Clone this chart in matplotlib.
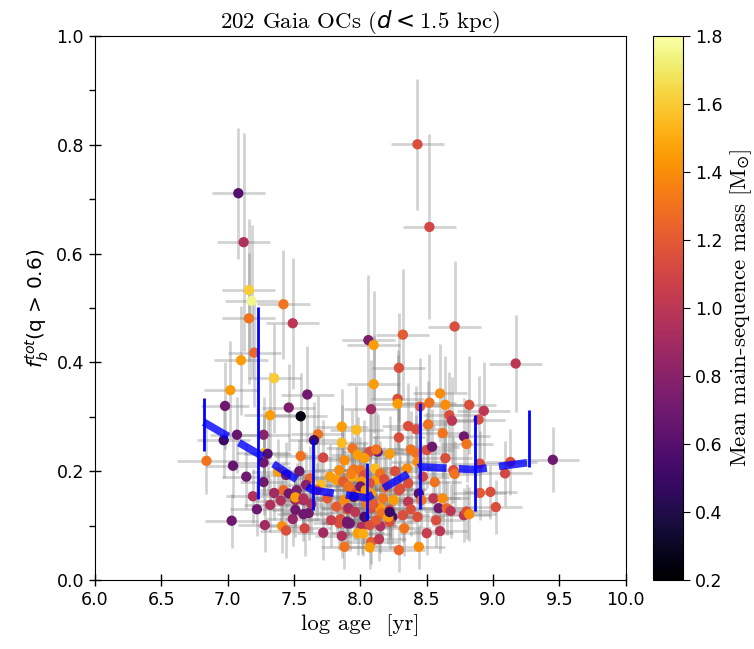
import matplotlib
matplotlib.use("Agg")
import matplotlib.pyplot as plt
import numpy as np
from matplotlib.ticker import MultipleLocator

# Open clusters: log age, total binary fraction (q > 0.6), mean MS mass, uncertainties
log_age = [
    8.43, 8.52, 7.08, 7.12, 7.16, 7.18, 7.16, 7.42, 7.49, 7.20,
    7.10, 7.35, 7.02, 7.60, 8.06, 8.10, 8.32, 8.29, 8.10, 8.28,
    8.71, 9.17, 9.45, 6.98, 7.46, 7.55, 7.32, 7.07, 6.97, 7.27,
    7.68, 7.65, 7.86, 7.86, 7.27, 7.30, 7.55, 6.84, 7.04, 7.27,
    7.14, 7.38, 7.44, 7.54, 7.27, 7.62, 7.70, 7.84, 7.82, 7.87,
    7.19, 7.42, 7.46, 7.52, 7.51, 7.57, 7.40, 7.32, 7.51, 7.57,
    7.61, 7.67, 7.49, 7.03, 7.28, 7.41, 7.44, 7.72, 7.84, 7.86,
    7.88, 7.82, 7.85, 7.90, 7.90, 7.51, 7.57, 8.28, 8.08, 8.52,
    8.60, 8.64, 8.45, 8.36, 8.51, 8.62, 8.42, 8.29, 7.97, 7.94,
    8.13, 8.07, 8.22, 8.38, 8.42, 8.50, 8.54, 8.64, 8.03, 8.43,
    8.11, 7.95, 8.35, 8.36, 8.30, 8.02, 8.12, 8.15, 8.07, 8.00,
    7.95, 7.98, 8.17, 8.25, 8.29, 8.36, 8.44, 8.46, 8.55, 8.62,
    8.59, 8.65, 7.88, 7.91, 7.90, 8.08, 8.15, 8.22, 8.24, 8.32,
    8.43, 8.57, 8.01, 8.07, 8.15, 8.22, 7.98, 8.02, 8.08, 8.50,
    8.07, 8.29, 8.44, 8.82, 8.93, 8.67, 8.69, 8.89, 8.78, 8.80,
    8.70, 8.71, 8.90, 9.13, 9.09, 8.98, 9.02, 8.68, 8.78, 8.80,
    8.82, 8.00, 8.03, 8.01, 7.91, 8.00, 8.08, 7.95, 7.92, 8.03,
    8.16, 8.21, 8.22, 7.94, 7.98, 7.88, 8.12, 8.26, 8.19, 8.05,
    7.96, 8.12, 8.14, 7.78, 7.75, 7.77, 7.72, 8.33, 8.38, 7.63,
    7.59, 7.35, 7.22, 7.58, 8.47, 8.56, 8.04, 8.10, 7.93, 8.18,
    8.90, 8.60,
]
fb_tot = [
    0.801, 0.649, 0.711, 0.621, 0.533, 0.513, 0.481, 0.507, 0.472, 0.418,
    0.404, 0.371, 0.349, 0.341, 0.441, 0.432, 0.451, 0.390, 0.360, 0.333,
    0.466, 0.398, 0.221, 0.320, 0.317, 0.301, 0.303, 0.267, 0.257, 0.267,
    0.268, 0.257, 0.282, 0.252, 0.233, 0.232, 0.228, 0.219, 0.210, 0.216,
    0.190, 0.199, 0.193, 0.200, 0.180, 0.187, 0.175, 0.202, 0.184, 0.181,
    0.154, 0.165, 0.159, 0.165, 0.147, 0.147, 0.146, 0.138, 0.129, 0.121,
    0.123, 0.165, 0.112, 0.109, 0.101, 0.099, 0.091, 0.087, 0.105, 0.081,
    0.061, 0.135, 0.112, 0.104, 0.130, 0.152, 0.150, 0.324, 0.314, 0.326,
    0.343, 0.322, 0.319, 0.283, 0.286, 0.270, 0.277, 0.262, 0.276, 0.242,
    0.236, 0.236, 0.232, 0.240, 0.233, 0.239, 0.245, 0.224, 0.224, 0.217,
    0.205, 0.203, 0.205, 0.178, 0.168, 0.185, 0.184, 0.196, 0.178, 0.168,
    0.165, 0.154, 0.150, 0.147, 0.165, 0.144, 0.159, 0.147, 0.150, 0.150,
    0.132, 0.132, 0.147, 0.132, 0.107, 0.132, 0.132, 0.129, 0.116, 0.119,
    0.116, 0.110, 0.098, 0.101, 0.099, 0.107, 0.086, 0.085, 0.070, 0.086,
    0.060, 0.055, 0.061, 0.322, 0.311, 0.303, 0.293, 0.295, 0.264, 0.250,
    0.202, 0.195, 0.214, 0.217, 0.196, 0.162, 0.134, 0.127, 0.119, 0.126,
    0.121, 0.202, 0.193, 0.181, 0.172, 0.172, 0.159, 0.153, 0.104, 0.116,
    0.123, 0.116, 0.125, 0.190, 0.230, 0.220, 0.240, 0.200, 0.170, 0.140,
    0.125, 0.110, 0.075, 0.110, 0.150, 0.190, 0.225, 0.095, 0.130, 0.140,
    0.175, 0.160, 0.130, 0.095, 0.190, 0.180, 0.165, 0.140, 0.195, 0.185,
    0.160, 0.090,
]
ms_mass = [
    1.15, 1.10, 0.60, 0.95, 1.60, 1.75, 1.30, 1.30, 1.00, 1.25,
    1.45, 1.60, 1.45, 0.70, 0.75, 1.45, 1.20, 1.15, 1.45, 1.15,
    1.15, 1.00, 0.70, 0.70, 0.75, 0.25, 1.45, 0.65, 0.50, 0.80,
    1.30, 0.50, 1.45, 1.55, 1.55, 0.60, 1.30, 1.30, 0.65, 0.70,
    0.70, 1.45, 0.70, 0.70, 0.70, 1.25, 1.55, 1.40, 1.45, 1.20,
    0.95, 1.25, 0.70, 0.75, 0.90, 0.90, 0.95, 0.95, 0.70, 0.70,
    0.70, 1.15, 0.85, 0.70, 0.90, 1.40, 1.15, 0.90, 1.15, 0.95,
    1.30, 1.20, 1.15, 0.75, 1.20, 1.45, 0.95, 1.45, 0.90, 1.30,
    1.40, 1.40, 1.20, 1.15, 1.30, 1.30, 1.15, 1.15, 1.55, 1.30,
    0.70, 1.15, 1.45, 1.30, 1.30, 1.15, 0.70, 1.15, 1.45, 1.40,
    1.55, 1.30, 1.40, 1.15, 1.15, 1.15, 1.45, 1.30, 1.15, 0.60,
    1.15, 1.45, 1.30, 1.45, 1.15, 1.00, 0.60, 1.30, 1.00, 1.40,
    0.70, 1.25, 1.40, 0.90, 0.70, 1.15, 1.45, 1.15, 0.55, 1.15,
    1.15, 1.15, 0.95, 1.15, 0.95, 1.15, 1.45, 1.50, 1.20, 1.05,
    1.45, 1.25, 1.40, 1.15, 1.00, 1.15, 1.00, 1.15, 0.70, 1.30,
    1.15, 1.30, 1.15, 1.15, 1.10, 1.15, 1.15, 1.00, 1.00, 1.15,
    1.40, 1.30, 1.15, 1.45, 1.30, 0.70, 1.45, 0.55, 0.70, 0.55,
    1.30, 1.45, 0.50, 1.50, 1.45, 1.40, 1.30, 1.15, 1.30, 1.30,
    1.00, 1.20, 1.00, 1.05, 1.20, 1.45, 1.10, 1.30, 1.15, 0.95,
    0.80, 0.90, 0.70, 1.10, 1.10, 1.30, 1.45, 1.20, 1.35, 1.15,
    1.20, 1.00,
]
age_err = [
    0.20, 0.20, 0.20, 0.20, 0.20, 0.20, 0.20, 0.20, 0.20, 0.20,
    0.20, 0.20, 0.20, 0.20, 0.20, 0.20, 0.20, 0.20, 0.20, 0.20,
    0.20, 0.20, 0.20, 0.18, 0.20, 0.20, 0.20, 0.20, 0.20, 0.20,
    0.20, 0.18, 0.20, 0.20, 0.20, 0.18, 0.20, 0.22, 0.20, 0.20,
    0.18, 0.20, 0.20, 0.20, 0.18, 0.20, 0.20, 0.20, 0.20, 0.20,
    0.20, 0.18, 0.20, 0.20, 0.20, 0.18, 0.20, 0.20, 0.18, 0.20,
    0.20, 0.20, 0.20, 0.20, 0.20, 0.18, 0.20, 0.20, 0.20, 0.20,
    0.18, 0.20, 0.20, 0.20, 0.20, 0.20, 0.18, 0.20, 0.20, 0.20,
    0.20, 0.20, 0.18, 0.20, 0.20, 0.20, 0.20, 0.20, 0.20, 0.20,
    0.20, 0.20, 0.20, 0.18, 0.20, 0.20, 0.20, 0.20, 0.20, 0.20,
    0.20, 0.20, 0.20, 0.20, 0.20, 0.20, 0.20, 0.20, 0.20, 0.20,
    0.20, 0.20, 0.20, 0.20, 0.20, 0.20, 0.20, 0.20, 0.20, 0.20,
    0.20, 0.20, 0.20, 0.20, 0.20, 0.20, 0.20, 0.20, 0.20, 0.20,
    0.20, 0.20, 0.20, 0.20, 0.20, 0.20, 0.20, 0.20, 0.20, 0.20,
    0.20, 0.20, 0.20, 0.20, 0.20, 0.20, 0.20, 0.20, 0.20, 0.20,
    0.20, 0.20, 0.20, 0.20, 0.20, 0.20, 0.20, 0.20, 0.20, 0.20,
    0.20, 0.20, 0.20, 0.20, 0.20, 0.20, 0.20, 0.20, 0.20, 0.20,
    0.20, 0.20, 0.20, 0.20, 0.20, 0.20, 0.20, 0.20, 0.20, 0.20,
    0.20, 0.20, 0.20, 0.20, 0.20, 0.20, 0.20, 0.20, 0.20, 0.20,
    0.20, 0.20, 0.20, 0.20, 0.20, 0.20, 0.20, 0.20, 0.20, 0.20,
    0.20, 0.20,
]
fb_err = [
    0.12, 0.17, 0.12, 0.20, 0.13, 0.14, 0.12, 0.10, 0.12, 0.10,
    0.10, 0.10, 0.09, 0.09, 0.12, 0.10, 0.12, 0.10, 0.09, 0.09,
    0.12, 0.09, 0.06, 0.08, 0.08, 0.08, 0.08, 0.07, 0.07, 0.07,
    0.07, 0.07, 0.07, 0.07, 0.07, 0.07, 0.07, 0.06, 0.06, 0.06,
    0.06, 0.06, 0.06, 0.06, 0.06, 0.06, 0.06, 0.06, 0.06, 0.06,
    0.05, 0.05, 0.05, 0.05, 0.05, 0.05, 0.05, 0.05, 0.05, 0.05,
    0.05, 0.05, 0.05, 0.05, 0.05, 0.05, 0.05, 0.05, 0.05, 0.04,
    0.04, 0.05, 0.05, 0.05, 0.05, 0.05, 0.05, 0.09, 0.09, 0.09,
    0.09, 0.09, 0.09, 0.08, 0.08, 0.08, 0.08, 0.08, 0.08, 0.07,
    0.07, 0.07, 0.07, 0.07, 0.07, 0.07, 0.07, 0.07, 0.07, 0.07,
    0.06, 0.06, 0.06, 0.06, 0.06, 0.06, 0.06, 0.06, 0.06, 0.06,
    0.06, 0.05, 0.05, 0.05, 0.05, 0.05, 0.05, 0.05, 0.05, 0.05,
    0.05, 0.05, 0.05, 0.05, 0.05, 0.05, 0.05, 0.05, 0.05, 0.05,
    0.05, 0.05, 0.05, 0.05, 0.05, 0.05, 0.04, 0.04, 0.04, 0.04,
    0.04, 0.04, 0.04, 0.09, 0.09, 0.08, 0.08, 0.08, 0.07, 0.07,
    0.06, 0.06, 0.06, 0.06, 0.06, 0.05, 0.05, 0.05, 0.05, 0.05,
    0.05, 0.06, 0.06, 0.06, 0.06, 0.06, 0.05, 0.05, 0.05, 0.05,
    0.05, 0.05, 0.05, 0.06, 0.07, 0.06, 0.07, 0.06, 0.06, 0.05,
    0.05, 0.05, 0.04, 0.05, 0.05, 0.06, 0.07, 0.05, 0.05, 0.05,
    0.06, 0.05, 0.05, 0.05, 0.06, 0.06, 0.05, 0.05, 0.06, 0.06,
    0.05, 0.04,
]

# Binned median trend with its spread
bin_age = [6.82, 7.23, 7.64, 8.05, 8.45, 8.86, 9.27]
bin_fb = [0.290, 0.232, 0.165, 0.151, 0.208, 0.203, 0.216]
bin_lo = [0.237, 0.149, 0.129, 0.110, 0.130, 0.127, 0.207]
bin_hi = [0.335, 0.502, 0.259, 0.215, 0.325, 0.303, 0.312]

serif = "cmr10"
serif_size = 16.5

fig = plt.figure(figsize=(7.54, 6.49), dpi=100)
ax = fig.add_axes([0.126, 0.1063, 0.704, 0.8382])
cax = fig.add_axes([0.866, 0.1063, 0.040, 0.8382])

ax.errorbar(log_age, fb_tot, xerr=age_err, yerr=fb_err, fmt="none",
            ecolor="gray", elinewidth=2, alpha=0.35, capsize=0, zorder=1)
sc = ax.scatter(log_age, fb_tot, c=ms_mass, cmap="inferno", vmin=0.2, vmax=1.8,
                s=55, edgecolors="none", zorder=2)

bin_fb_arr = np.array(bin_fb)
yerr_bins = [bin_fb_arr - np.array(bin_lo), np.array(bin_hi) - bin_fb_arr]
ax.errorbar(bin_age, bin_fb, yerr=yerr_bins, fmt="none", ecolor="#0000ff",
            elinewidth=2, capsize=0, zorder=4)
ax.plot(bin_age, bin_fb, color="#0000ff", lw=5.5, ls="--", alpha=0.8, zorder=5)

ax.set_xlim(6.0, 10.0)
ax.set_ylim(0.0, 1.0)
ax.xaxis.set_major_locator(MultipleLocator(0.5))
ax.yaxis.set_major_locator(MultipleLocator(0.2))
ax.yaxis.set_minor_locator(MultipleLocator(0.1))
ax.tick_params(axis="both", which="major", direction="inout", length=9,
               width=1, labelsize=12.5)
ax.tick_params(axis="y", which="minor", direction="out", length=4, width=1)

ax.set_xlabel("log age  [yr]", fontsize=serif_size, family=serif)
ax.set_ylabel(r"$f_b^{tot}$(q > 0.6)", fontsize=14.5)
ax.set_title(r"202 Gaia OCs ($d<$1.5 kpc)", fontsize=serif_size, family=serif)

cb = fig.colorbar(sc, cax=cax)
cb.set_ticks([0.2, 0.4, 0.6, 0.8, 1.0, 1.2, 1.4, 1.6, 1.8])
cb.ax.tick_params(labelsize=12.5, length=5)
cb.set_label(r"Mean main-sequence mass [M$_{\odot}$]", fontsize=serif_size,
             family=serif)

fig.savefig("out.png", dpi=100)
